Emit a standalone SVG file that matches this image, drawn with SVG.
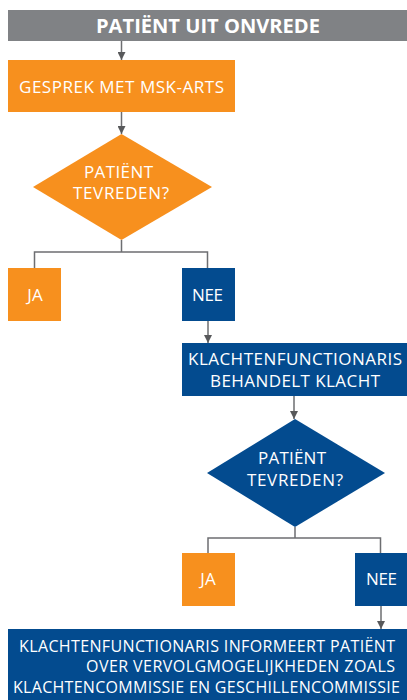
<svg xmlns="http://www.w3.org/2000/svg" width="407" height="700" viewBox="0 0 407 700">
<defs>
<style>
.t{font-family:"Open Sans","Liberation Sans",sans-serif;fill:#fff;text-anchor:middle;font-size:17px}
.b{font-weight:bold;font-size:20px}
.s{font-size:16px}
.or{fill:#F7901E}
.bl{fill:#034B8F}
.c{fill:none;stroke:#6d6e71;stroke-width:1.5}
</style>
<marker id="ah" viewBox="0 0 10 10" refX="10" refY="5" markerWidth="8" markerHeight="8" markerUnits="userSpaceOnUse" orient="auto"><path d="M0,0 L10,5 L0,10 z" fill="#58595b"/></marker>
</defs>
<g id="connectors">
<path class="c" d="M121.5,41 V60" marker-end="url(#ah)"/>
<path class="c" d="M121.5,112 V134" marker-end="url(#ah)"/>
<path class="c" d="M121.5,240 V252 M34.5,268 V252 H207.5 V268"/>
<path class="c" d="M208,321 V343" marker-end="url(#ah)"/>
<path class="c" d="M294,396 V419" marker-end="url(#ah)"/>
<path class="c" d="M295,527 V538 M208,553 V538 H380.5 V553"/>
<path class="c" d="M381,606 V629" marker-end="url(#ah)"/>
</g>
<g id="start">
<rect x="8" y="10" width="399" height="31" fill="#808285"/>
<text class="t b" x="208" y="33" textLength="224" lengthAdjust="spacingAndGlyphs">PATIËNT UIT ONVREDE</text>
</g>
<g id="gesprek">
<rect class="or" x="8" y="60" width="227" height="52"/>
<text class="t" x="121.5" y="93" textLength="205">GESPREK MET MSK-ARTS</text>
</g>
<g id="beslissing1">
<polygon class="or" points="121.5,134 212,187 121.5,240 33,187"/>
<text class="t"><tspan x="118.5" y="178" textLength="69">PATIËNT</tspan><tspan x="121" y="199" textLength="96">TEVREDEN?</tspan></text>
</g>
<g id="ja1">
<rect class="or" x="8" y="268" width="53" height="53"/>
<text class="t" x="35" y="301">JA</text>
</g>
<g id="nee1">
<rect class="bl" x="182" y="268" width="53" height="53"/>
<text class="t" x="207.5" y="301" textLength="31">NEE</text>
</g>
<g id="klachtenfunctionaris">
<rect class="bl" x="182" y="343" width="225" height="53"/>
<text class="t"><tspan x="295" y="365" textLength="214">KLACHTENFUNCTIONARIS</tspan><tspan x="295" y="387" textLength="170">BEHANDELT KLACHT</tspan></text>
</g>
<g id="beslissing2">
<polygon class="bl" points="295,419 385,473 295,527 207,473"/>
<text class="t"><tspan x="292" y="464" textLength="68">PATIËNT</tspan><tspan x="295" y="486" textLength="96">TEVREDEN?</tspan></text>
</g>
<g id="ja2">
<rect class="or" x="182" y="553" width="53" height="53"/>
<text class="t" x="208" y="585">JA</text>
</g>
<g id="nee2">
<rect class="bl" x="355" y="553" width="52" height="53"/>
<text class="t" x="381.5" y="585" textLength="31">NEE</text>
</g>
<g id="informeert">
<rect class="bl" x="8" y="629" width="399" height="71"/>
<text class="t s"><tspan x="207" y="652" textLength="376">KLACHTENFUNCTIONARIS INFORMEERT PATIËNT</tspan><tspan x="240.5" y="672" textLength="309">OVER VERVOLGMOGELIJKHEDEN ZOALS</tspan><tspan x="206.5" y="693" textLength="387">KLACHTENCOMMISSIE EN GESCHILLENCOMMISSIE</tspan></text>
</g>
</svg>
